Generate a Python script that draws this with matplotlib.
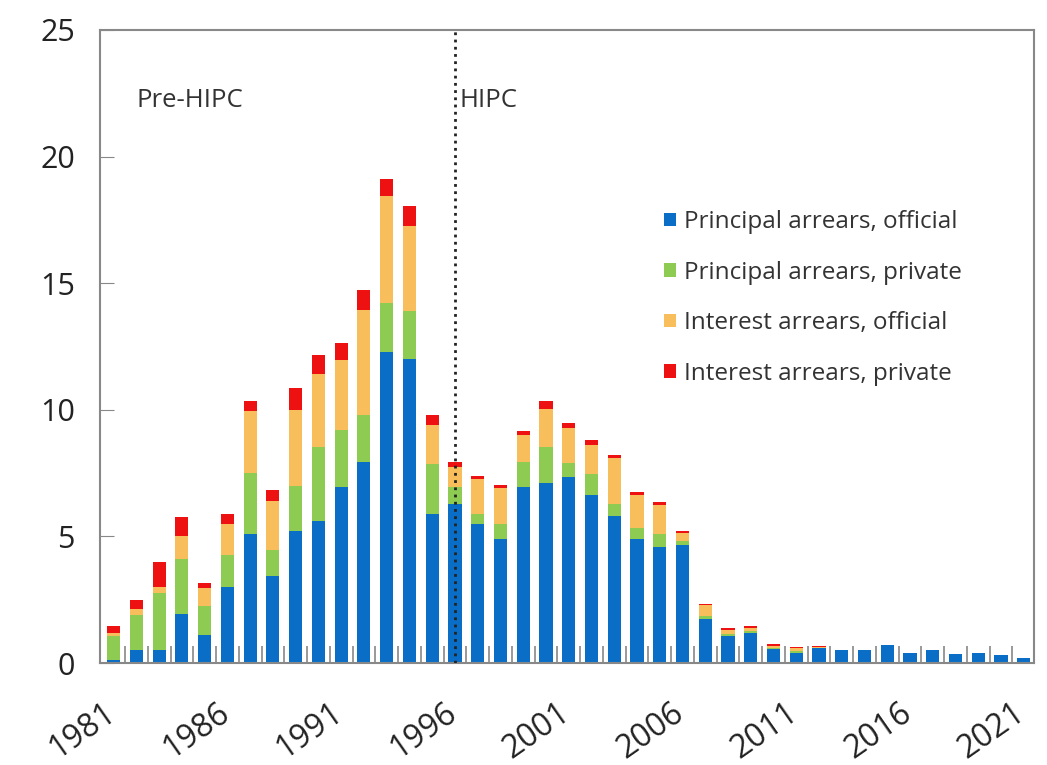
import numpy as np
from matplotlib import pyplot as plt
from matplotlib.patches import Patch
from matplotlib import transforms

plt.rcParams['font.family'] = ['Open Sans', 'DejaVu Sans']

years = list(range(1981, 2022))

prin_off = [0.1, 0.5, 0.5, 1.95, 1.1, 3.0, 5.1, 3.45, 5.2, 5.6,
            6.95, 7.95, 12.3, 12.0, 5.9, 6.3, 5.5, 4.9, 6.95, 7.1,
            7.35, 6.65, 5.8, 4.9, 4.6, 4.65, 1.75, 1.05, 1.2, 0.55,
            0.4, 0.58, 0.5, 0.5, 0.72, 0.4, 0.5, 0.35, 0.4, 0.3, 0.2]
prin_priv = [0.95, 1.4, 2.25, 2.15, 1.15, 1.25, 2.4, 1.0, 1.8, 2.95,
             2.25, 1.85, 1.9, 1.9, 1.95, 0.65, 0.4, 0.6, 1.0, 1.45,
             0.55, 0.8, 0.5, 0.45, 0.5, 0.15, 0.1, 0.1, 0.07, 0.03,
             0.08, 0.0, 0.0, 0.0, 0.0, 0.0, 0.0, 0.0, 0.0, 0.0, 0.0]
int_off = [0.12, 0.25, 0.25, 0.9, 0.7, 1.25, 2.45, 1.95, 3.0, 2.85,
           2.75, 4.15, 4.25, 3.35, 1.55, 0.8, 1.35, 1.4, 1.05, 1.5,
           1.4, 1.15, 1.8, 1.3, 1.15, 0.35, 0.45, 0.17, 0.1, 0.1,
           0.1, 0.05, 0.0, 0.0, 0.0, 0.0, 0.0, 0.0, 0.0, 0.0, 0.0]
int_priv = [0.3, 0.33, 1.0, 0.75, 0.22, 0.4, 0.4, 0.45, 0.85, 0.75,
            0.7, 0.8, 0.65, 0.8, 0.4, 0.2, 0.12, 0.13, 0.15, 0.3,
            0.17, 0.2, 0.13, 0.1, 0.1, 0.08, 0.05, 0.05, 0.1, 0.07,
            0.04, 0.05, 0.0, 0.0, 0.0, 0.0, 0.0, 0.0, 0.0, 0.0, 0.0]

labels = ['Principal arrears, official', 'Principal arrears, private',
          'Interest arrears, official', 'Interest arrears, private']
colors = ['#0A6EC6', '#8DCB52', '#F9BE5C', '#EE1111']

fig = plt.figure(figsize=(10.47, 7.65), dpi=100)
ax = fig.add_axes([0.0955, 0.1333, 0.892, 0.8275])

x = np.arange(len(years))
bottom = np.zeros(len(years))
for vals, c in zip([prin_off, prin_priv, int_off, int_priv], colors):
    ax.bar(x, vals, 0.58, bottom=bottom, color=c, zorder=2)
    bottom += np.array(vals)

# boundary between pre-HIPC and HIPC
hipc = years.index(1996)
ax.axvline(hipc, color='#222222', ls=(0, (1, 1.6)), lw=2, zorder=3)
ax.text(1.0, 22.2, 'Pre-HIPC', fontsize=18.5, color='#333333', va='center')
ax.text(hipc + 0.2, 22.2, 'HIPC', fontsize=18.5, color='#333333', va='center')

ax.set_xlim(-0.6, len(years) - 0.55)
ax.set_ylim(0, 25)
ax.set_yticks([0, 5, 10, 15, 20, 25])
ax.tick_params(axis='y', direction='in', length=10, color='#888888',
               labelsize=22, labelcolor='#222222', pad=18)

major = x[::5]
ax.set_xticks(major)
ax.set_xticklabels([str(years[i]) for i in major], rotation=35,
                   ha='right', va='top', rotation_mode='anchor',
                   fontsize=23, color='#222222')
ax.tick_params(axis='x', which='major', length=0, pad=24)
ax.set_xticks(x[:-1] + 0.5, minor=True)
ax.tick_params(axis='x', which='minor', direction='in', length=12,
               color='#888888', width=1.2)
shift = transforms.ScaledTranslation(-0.11, 0, fig.dpi_scale_trans)
for lab in ax.get_xticklabels():
    lab.set_transform(lab.get_transform() + shift)

for s in ax.spines.values():
    s.set_color('#888888')
    s.set_linewidth(1.5)

handles = [Patch(facecolor=c, label=l) for c, l in zip(colors, labels)]
ax.legend(handles=handles, loc='upper left', bbox_to_anchor=(0.58, 0.75),
          frameon=False, fontsize=17.5, handlelength=0.5, handleheight=0.5,
          handletextpad=0.35, labelspacing=1.09, labelcolor='#333333')

plt.savefig('out.png', dpi=100)
